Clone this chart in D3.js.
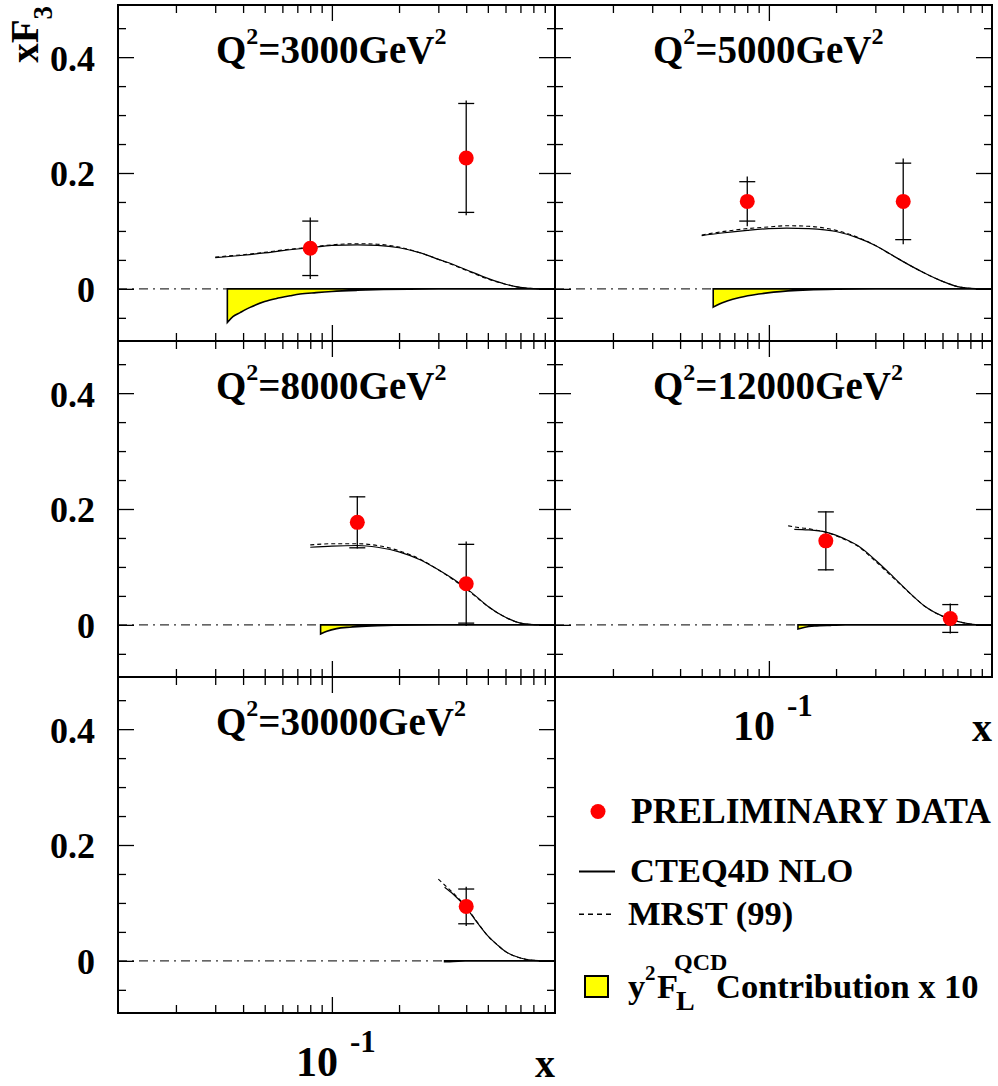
<!DOCTYPE html>
<html><head><meta charset="utf-8">
<script src="https://cdn.jsdelivr.net/npm/d3@7"></script>
<style>
body{margin:0;background:#fff}
svg{display:block;background:#fff}
text{font-family:"Liberation Serif","Times New Roman",serif;font-weight:bold;fill:#000}
</style>
</head><body>
<svg id="chart" width="998" height="1086"></svg>
<script>
// ---------------- data ----------------
const panelQ2 = ["3000", "5000", "8000", "12000", "30000"];

// preliminary data points
const ptX = [[0.08, 0.40], [0.08, 0.40], [0.13, 0.40], [0.18, 0.65], [0.40]];
const ptY = [[0.070, 0.226], [0.151, 0.151], [0.177, 0.071], [0.145, 0.011], [0.094]];
const statErr = [[0.047, 0.094], [0.034, 0.066], [0.044, 0.068], [0.050, 0.024], [0.030]];
const totErr  = [[0.053, 0.099], [0.043, 0.074], [0.045, 0.073], [0.051, 0.026], [0.034]];

// CTEQ4D NLO curves
const cteqX = [
  [0.030,0.04,0.05,0.06,0.08,0.10,0.13,0.16,0.20,0.25,0.30,0.35,0.40,0.50,0.60,0.70,0.80,0.90,1.0],
  [0.05,0.06,0.08,0.10,0.12,0.15,0.20,0.25,0.30,0.35,0.40,0.50,0.60,0.70,0.80,0.90,1.0],
  [0.08,0.10,0.13,0.16,0.20,0.25,0.30,0.35,0.40,0.45,0.50,0.60,0.70,0.80,0.90,1.0],
  [0.13,0.15,0.18,0.22,0.25,0.30,0.35,0.40,0.45,0.50,0.60,0.70,0.80,0.90,1.0],
  [0.32,0.35,0.40,0.45,0.50,0.55,0.60,0.70,0.80,0.90,1.0]
];
const cteqY = [
  [0.054,0.058,0.062,0.066,0.071,0.075,0.076,0.075,0.071,0.062,0.051,0.042,0.033,0.018,0.008,0.0025,0.0005,0,0],
  [0.092,0.096,0.101,0.104,0.105,0.104,0.099,0.088,0.075,0.060,0.047,0.027,0.013,0.004,0.0008,0.0001,0],
  [0.134,0.136,0.137,0.134,0.126,0.112,0.095,0.079,0.063,0.047,0.032,0.013,0.003,0.0005,0,0],
  [0.165,0.164,0.160,0.148,0.137,0.112,0.088,0.066,0.047,0.032,0.015,0.006,0.0015,0.0002,0],
  [0.127,0.115,0.092,0.065,0.043,0.028,0.016,0.005,0.001,0.0001,0]
];

// MRST (99) curves
const mrstX = [
  [0.030,0.04,0.05,0.06,0.08,0.10,0.13,0.16,0.20,0.25,0.30,0.35,0.40,0.50,0.60,0.70,0.80,0.90,1.0],
  [0.05,0.06,0.08,0.10,0.12,0.15,0.20,0.25,0.30,0.35,0.40,0.50,0.60,0.70,0.80,0.90,1.0],
  [0.08,0.10,0.13,0.16,0.20,0.25,0.30,0.35,0.40,0.45,0.50,0.60,0.70,0.80,0.90,1.0],
  [0.122,0.13,0.15,0.18,0.22,0.25,0.30,0.35,0.40,0.45,0.50,0.60,0.70,0.80,0.90,1.0],
  [0.30,0.32,0.35,0.40,0.45,0.50,0.55,0.60,0.70,0.80,0.90,1.0]
];
const mrstY = [
  [0.055,0.059,0.063,0.067,0.072,0.076,0.078,0.077,0.072,0.062,0.051,0.041,0.032,0.017,0.008,0.0025,0.0005,0,0],
  [0.093,0.098,0.104,0.107,0.109,0.108,0.101,0.089,0.075,0.060,0.047,0.027,0.013,0.004,0.0008,0.0001,0],
  [0.138,0.140,0.140,0.137,0.128,0.113,0.095,0.078,0.062,0.046,0.032,0.013,0.003,0.0005,0,0],
  [0.171,0.169,0.166,0.160,0.147,0.136,0.110,0.086,0.065,0.047,0.032,0.015,0.006,0.0015,0.0002,0],
  [0.141,0.131,0.117,0.093,0.066,0.043,0.028,0.016,0.005,0.001,0.0001,0]
];

// y^2 F_L contribution x 10
const flX = [
  [0.034,0.036,0.0388,0.043,0.05,0.056,0.065,0.072,0.085,0.10,0.13,0.17,0.22,0.30,0.5,1.0],
  [0.0563,0.060,0.065,0.074,0.09,0.105,0.15,0.2,0.3,0.5,1.0],
  [0.089,0.095,0.105,0.12,0.13,0.16,0.19,0.3,0.5,1.0],
  [0.135,0.145,0.16,0.19,0.22,0.3,0.5,1.0],
  [0.32,0.35,0.4,0.5,1.0]
];
const flY = [
  [-0.058,-0.048,-0.041,-0.032,-0.022,-0.017,-0.012,-0.009,-0.0065,-0.0045,-0.0025,-0.0012,-0.0005,-0.0001,0,0],
  [-0.0316,-0.026,-0.021,-0.015,-0.009,-0.0057,-0.0018,-0.0006,-0.0001,0,0],
  [-0.0157,-0.011,-0.0065,-0.004,-0.003,-0.0013,-0.0005,0,0,0],
  [-0.007,-0.004,-0.002,-0.0008,-0.0002,0,0,0],
  [-0.0015,-0.0008,-0.0003,0,0]
];

// ticks
const yMajorTicks = [0, 0.2, 0.4];
const yTickLabels = ["0", "0.2", "0.4"];
const yMinorTicks = [-0.05, 0.05, 0.1, 0.15, 0.25, 0.3, 0.35, 0.45];
const xMajorTicks = [0.1];
const xMinorTicks = [0.02,0.03,0.04,0.05,0.06,0.07,0.08,0.09,0.2,0.3,0.4,0.5,0.6,0.7,0.8,0.9];
const legendLabels = ["PRELIMINARY DATA", "CTEQ4D NLO", "MRST (99)"];

// ---------------- layout ----------------
const W = 437, H = 336;
const colX = [118, 555];
const rowY = [5, 341, 677];
const grid = [{c:0,r:0},{c:1,r:0},{c:0,r:1},{c:1,r:1},{c:0,r:2}];
const xDomain = [0.011, 1.0], yDomain = [-0.09, 0.49];

const svg = d3.select("#chart");
svg.append("rect").attr("width",998).attr("height",1086).attr("fill","#fff");

function tickAxis(g, axis) {
  g.call(axis);
  g.select(".domain").remove();
  g.selectAll(".tick line").attr("stroke","#000").attr("stroke-width",1.3);
}

grid.forEach((p, i) => {
  const x0 = colX[p.c], y0 = rowY[p.r];
  const x = d3.scaleLog().domain(xDomain).range([x0, x0 + W]);
  const y = d3.scaleLinear().domain(yDomain).range([y0 + H, y0]);
  const g = svg.append("g");

  const clipId = "clip" + i;
  svg.append("clipPath").attr("id", clipId).append("rect")
    .attr("x", x0).attr("y", y0).attr("width", W).attr("height", H);
  const pg = g.append("g").attr("clip-path", `url(#${clipId})`);

  // dash-dot zero line up to start of FL band
  pg.append("line")
    .attr("x1", x(xDomain[0])).attr("x2", x(flX[i][0]))
    .attr("y1", y(0)).attr("y2", y(0))
    .attr("stroke", "#333").attr("stroke-width", 1.2)
    .attr("stroke-dasharray", "9,5,2,5");

  // FL band
  const fl = flX[i].map((v, k) => [v, flY[i][k]]);
  pg.append("path").datum(fl)
    .attr("d", d3.area().x(d => x(d[0])).y0(y(0)).y1(d => y(d[1])).curve(d3.curveMonotoneX))
    .attr("fill", "#ffff00").attr("stroke", "#000").attr("stroke-width", 1.6)
    .attr("stroke-linejoin", "miter");

  // theory curves
  const line = d3.line().x(d => x(d[0])).y(d => y(d[1])).curve(d3.curveMonotoneX);
  pg.append("path").datum(mrstX[i].map((v, k) => [v, mrstY[i][k]]))
    .attr("d", line).attr("fill", "none").attr("stroke", "#000")
    .attr("stroke-width", 1.1).attr("stroke-dasharray", "4,3");
  pg.append("path").datum(cteqX[i].map((v, k) => [v, cteqY[i][k]]))
    .attr("d", line).attr("fill", "none").attr("stroke", "#000").attr("stroke-width", 1.2);

  // data points with error bars
  ptX[i].forEach((xv, k) => {
    const cx = x(xv), yv = ptY[i][k];
    pg.append("line").attr("x1", cx).attr("x2", cx)
      .attr("y1", y(yv + totErr[i][k])).attr("y2", y(yv - totErr[i][k]))
      .attr("stroke", "#000").attr("stroke-width", 1.3);
    [yv + statErr[i][k], yv - statErr[i][k]].forEach(e => {
      pg.append("line").attr("x1", cx - 8).attr("x2", cx + 8)
        .attr("y1", y(e)).attr("y2", y(e))
        .attr("stroke", "#000").attr("stroke-width", 1.3);
    });
    pg.append("circle").attr("cx", cx).attr("cy", y(yv)).attr("r", 7.5).attr("fill", "#ff0000");
  });

  // ticks on all four sides, pointing inward
  tickAxis(g.append("g").attr("transform", `translate(${x0},0)`),
    d3.axisRight(y).tickValues(yMajorTicks).tickSize(16).tickFormat(""));
  tickAxis(g.append("g").attr("transform", `translate(${x0},0)`),
    d3.axisRight(y).tickValues(yMinorTicks).tickSize(8).tickFormat(""));
  tickAxis(g.append("g").attr("transform", `translate(${x0 + W},0)`),
    d3.axisLeft(y).tickValues(yMajorTicks).tickSize(16).tickFormat(""));
  tickAxis(g.append("g").attr("transform", `translate(${x0 + W},0)`),
    d3.axisLeft(y).tickValues(yMinorTicks).tickSize(8).tickFormat(""));
  tickAxis(g.append("g").attr("transform", `translate(0,${y0})`),
    d3.axisBottom(x).tickValues(xMajorTicks).tickSize(16).tickFormat(""));
  tickAxis(g.append("g").attr("transform", `translate(0,${y0})`),
    d3.axisBottom(x).tickValues(xMinorTicks).tickSize(8).tickFormat(""));
  tickAxis(g.append("g").attr("transform", `translate(0,${y0 + H})`),
    d3.axisTop(x).tickValues(xMajorTicks).tickSize(16).tickFormat(""));
  tickAxis(g.append("g").attr("transform", `translate(0,${y0 + H})`),
    d3.axisTop(x).tickValues(xMinorTicks).tickSize(8).tickFormat(""));

  // frame
  g.append("rect").attr("x", x0).attr("y", y0).attr("width", W).attr("height", H)
    .attr("fill", "none").attr("stroke", "#000").attr("stroke-width", 2);

  // y tick labels on left column
  if (p.c === 0) {
    const lg = g.append("g").attr("transform", `translate(${x0},0)`)
      .call(d3.axisLeft(y).tickValues(yMajorTicks).tickSize(0).tickPadding(23)
        .tickFormat((d, k) => yTickLabels[k]));
    lg.select(".domain").remove();
    lg.selectAll("text").attr("dy", "0.36em")
      .style("font-family", '"Liberation Serif",serif').style("font-weight", "bold")
      .style("font-size", "36px").attr("fill", "#000");
  }

  // panel title
  const t = g.append("text").attr("x", x0 + 98).attr("y", y0 + 58).style("font-size", "39px");
  t.append("tspan").text("Q");
  t.append("tspan").text("2").attr("dy", -19).style("font-size", "24px");
  t.append("tspan").text("=" + panelQ2[i] + "GeV").attr("dy", 19);
  t.append("tspan").text("2").attr("dy", -19).style("font-size", "24px");

  // x axis labels below bottom-most panel of each column
  if (i === 3 || i === 4) {
    const tx = x(0.1), by = y0 + H;
    g.append("text").attr("x", tx + 6).attr("y", by + 63).attr("text-anchor", "end")
      .style("font-size", "42px").text("10");
    g.append("text").attr("x", tx + 18).attr("y", by + 39)
      .style("font-size", "31px").text("-1");
    g.append("text").attr("x", x0 + W).attr("y", by + 64).attr("text-anchor", "end")
      .style("font-size", "40px").text("x");
  }
});

// y-axis title xF3
const yl = svg.append("text").attr("transform", "translate(38,6) rotate(-90)")
  .attr("text-anchor", "end").style("font-size", "39px");
yl.append("tspan").text("xF");
yl.append("tspan").text("3").attr("dy", 14).style("font-size", "27px");

// ---------------- legend ----------------
const leg = svg.append("g");
leg.append("circle").attr("cx", 598).attr("cy", 811.5).attr("r", 7.5).attr("fill", "#ff0000");
leg.append("text").attr("x", 631).attr("y", 822.5).style("font-size", "35.5px").text(legendLabels[0]);
leg.append("line").attr("x1", 579).attr("x2", 615).attr("y1", 871.5).attr("y2", 871.5)
  .attr("stroke", "#000").attr("stroke-width", 2);
leg.append("text").attr("x", 630).attr("y", 881.7).style("font-size", "34.5px").text(legendLabels[1]);
leg.append("line").attr("x1", 579).attr("x2", 615).attr("y1", 914.3).attr("y2", 914.3)
  .attr("stroke", "#000").attr("stroke-width", 1.5).attr("stroke-dasharray", "5,4");
leg.append("text").attr("x", 628).attr("y", 925).style("font-size", "34.5px").text(legendLabels[2]);
leg.append("rect").attr("x", 585).attr("y", 976).attr("width", 23).attr("height", 21)
  .attr("fill", "#ffff00").attr("stroke", "#000").attr("stroke-width", 2);
const l4 = leg.append("text").style("font-size", "34.5px");
l4.append("tspan").attr("x", 628).attr("y", 998).text("y");
l4.append("tspan").attr("x", 645).attr("y", 980).style("font-size", "21px").text("2");
l4.append("tspan").attr("x", 657).attr("y", 998).text("F");
l4.append("tspan").attr("x", 676).attr("y", 1010).style("font-size", "28px").text("L");
l4.append("tspan").attr("x", 674).attr("y", 970).style("font-size", "24px").text("QCD");
l4.append("tspan").attr("x", 716).attr("y", 998).text("Contribution x 10");
</script>
</body></html>
